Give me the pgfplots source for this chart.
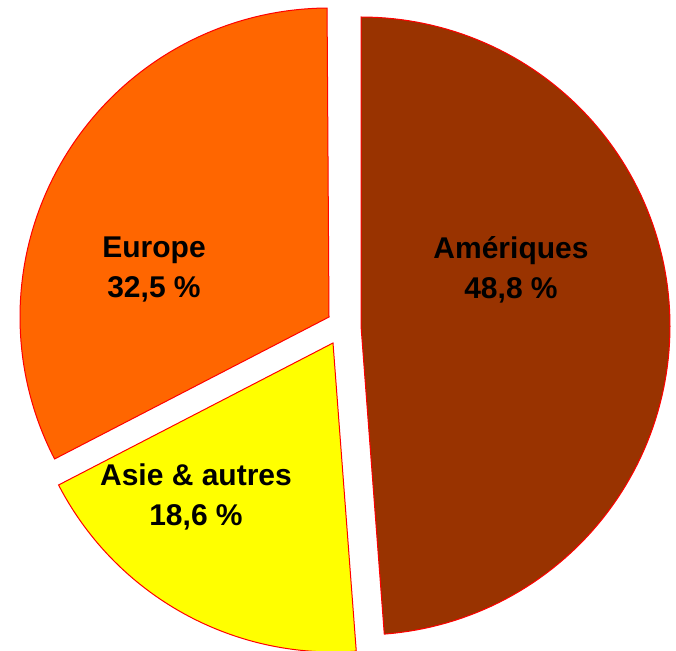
\documentclass[border=0pt]{standalone}
\usepackage{pgfplots}
\pgfplotsset{compat=1.18}
\usepackage{fontspec}
\setmainfont{Liberation Sans}
\definecolor{amer}{HTML}{993300}
\definecolor{euro}{HTML}{FF6600}
\definecolor{asie}{HTML}{FFFF00}
\begin{document}
\begin{tikzpicture}
% values in percent
\def\vAmer{48.8}
\def\vAsie{18.6}
\def\vEuro{32.5}
\pgfmathsetmacro\aA{90}
\pgfmathsetmacro\aB{90-\vAmer*3.6}
\pgfmathsetmacro\aC{\aB-\vAsie*3.6}
\pgfmathsetmacro\aD{\aC-\vEuro*3.6}
\begin{axis}[
  x=1pt, y=1pt,
  xmin=0, xmax=676, ymin=0, ymax=650,
  hide axis, clip=true,
  samples=120, variable=\t,
]
\addplot[draw=none] coordinates {(0,0) (676,650)};
% Amériques
\addplot[fill=amer, draw=red, line width=1pt, domain=\aB:\aA]
  ({361+309*cos(t)}, {324+309*sin(t)}) -- (axis cs:361,324) -- cycle;
% Asie & autres
\addplot[fill=asie, draw=red, line width=1pt, domain=\aC:\aB]
  ({333+309*cos(t)}, {307+309*sin(t)}) -- (axis cs:333,307) -- cycle;
% Europe
\addplot[fill=euro, draw=red, line width=1pt, domain=\aD:\aC]
  ({329+309*cos(t)}, {333+309*sin(t)}) -- (axis cs:329,333) -- cycle;
\node[align=center, font=\fontsize{30}{40}\selectfont\bfseries] at (axis cs:154,380) {Europe\\32,5 \%};
\node[align=center, font=\fontsize{30}{40}\selectfont\bfseries] at (axis cs:511,380) {Amériques\\48,8 \%};
\node[align=center, font=\fontsize{30}{40}\selectfont\bfseries] at (axis cs:196,153) {Asie \& autres\\18,6 \%};
\end{axis}
\end{tikzpicture}
\end{document}
